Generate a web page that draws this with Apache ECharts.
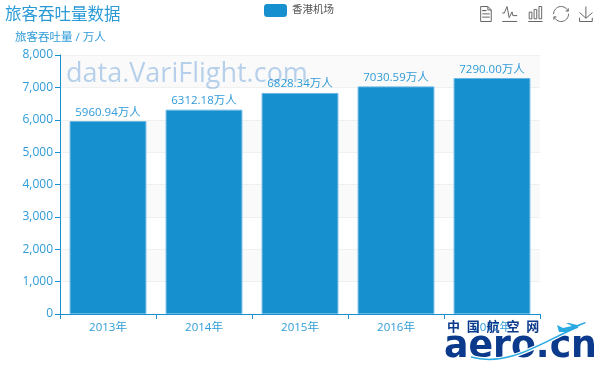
<!DOCTYPE html>
<html>
<head>
    <meta charset="utf-8" />
    <title>旅客吞吐量数据</title>
    <style>
        * { margin: 0; padding: 0 }
        html, body { width: 100%; height: 100%; background: #fff; }
        #chart { width: 600px; height: 369px; }
    </style>
    <script src="https://cdn.jsdelivr.net/npm/echarts@6/dist/echarts.min.js"></script>
</head>
<body>
    <div id="chart"></div>
    <script>
        const years = ['2013年', '2014年', '2015年', '2016年', '2017年'];
        const passengers = [5960.94, 6312.18, 6828.34, 7030.59, 7290.00];
        const seriesName = '香港机场';
        const logoChars = ['中', '国', '航', '空', '网'];
        const font = '"Open Sans", "Noto Sans CJK SC", sans-serif';
        const blue = '#1790cf';
        const textBlue = '#2f9bd8';
        const logoBlue = '#0b3a8c';
        const skyBlue = '#29a9e1';

        const swoosh = { x1: 471, y1: 357, x2: 578, y2: 327, cpx1: 510, cpy1: 368, cpx2: 545, cpy2: 340 };

        const myChart = echarts.init(document.getElementById('chart'), null, { renderer: 'canvas' });
        myChart.setOption({
            animation: false,
            textStyle: { fontFamily: font },
            title: {
                text: '旅客吞吐量数据',
                left: 0, top: 2,
                textStyle: { fontSize: 16.5, fontWeight: 'normal', color: '#2a9ad6', fontFamily: font }
            },
            legend: {
                data: [seriesName],
                top: 4, left: 264,
                padding: 0,
                itemWidth: 23, itemHeight: 13,
                itemGap: 5,
                itemStyle: { borderWidth: 0 },
                textStyle: { fontSize: 10.5, color: '#555', fontFamily: font }
            },
            toolbox: {
                show: true,
                right: -10, top: -11,
                itemSize: 15,
                itemGap: 6,
                iconStyle: { color: 'none', borderColor: '#666', borderWidth: 1 },
                feature: {
                    dataView: { show: true, title: '' },
                    magicType: { show: true, type: ['line', 'bar'], title: { line: '', bar: '' } },
                    restore: { show: true, title: '' },
                    saveAsImage: { show: true, title: '' }
                }
            },
            grid: { left: 60, right: 60, top: 55, bottom: 55, containLabel: false },
            xAxis: {
                type: 'category',
                data: years,
                axisLine: { lineStyle: { color: blue, width: 1 } },
                axisTick: { show: true, alignWithLabel: false, length: 5, lineStyle: { color: blue } },
                axisLabel: { fontSize: 11.5, color: textBlue, margin: 8 }
            },
            yAxis: {
                type: 'value',
                name: '旅客吞吐量 / 万人',
                nameLocation: 'end',
                nameGap: 12,
                nameTextStyle: { fontSize: 11.5, color: textBlue, align: 'left', padding: [0, 0, 0, -45] },
                min: 0, max: 8000, interval: 1000,
                axisLine: { show: true, lineStyle: { color: blue, width: 1 } },
                axisTick: { show: true, length: 5, lineStyle: { color: blue } },
                axisLabel: { fontSize: 12, color: textBlue, margin: 7 },
                splitLine: { show: true, lineStyle: { color: '#f0f0f0' } },
                splitArea: { show: true, areaStyle: { color: ['rgba(255,255,255,0)', 'rgba(245,245,245,0.55)'] } }
            },
            series: [{
                name: seriesName,
                type: 'bar',
                barWidth: '80%',
                data: passengers,
                itemStyle: { color: blue, borderColor: '#6ab8e4', borderWidth: 1 },
                label: {
                    show: true,
                    position: 'top',
                    distance: 3,
                    fontSize: 11.5,
                    color: textBlue,
                    formatter: p => p.value.toFixed(2) + '万人'
                }
            }],
            graphic: [
                {
                    type: 'text', x: 66, y: 61, z: 10, silent: true,
                    style: { text: 'data.VariFlight.com', font: '27px ' + font, fill: 'rgba(23,110,200,0.3)' }
                },
                ...logoChars.map((c, i) => ({
                    type: 'text', x: 447 + i * 19.8, y: 320, z: 20, silent: true,
                    style: { text: c, font: 'bold 13px "Noto Sans CJK SC", sans-serif', fill: logoBlue }
                })),
                {
                    type: 'text', x: 444, y: 329, z: 20, silent: true, scaleX: 0.98, scaleY: 1,
                    style: { text: 'aero.cn', font: 'bold 37px "DejaVu Sans", sans-serif', fill: logoBlue }
                },
                {
                    type: 'bezierCurve', z: 21, silent: true,
                    shape: swoosh,
                    style: { fill: 'none', stroke: '#fff', lineWidth: 4 }
                },
                {
                    type: 'bezierCurve', z: 22, silent: true,
                    shape: swoosh,
                    style: { fill: 'none', stroke: skyBlue, lineWidth: 1.5 }
                },
                {
                    type: 'polygon', z: 22, silent: true,
                    shape: { points: [[557, 325], [563, 328], [572, 326], [566, 323], [569, 323], [577, 325], [585, 322], [586, 323], [566, 332], [559, 332]] },
                    style: { fill: skyBlue }
                }
            ]
        });
    </script>
</body>
</html>
